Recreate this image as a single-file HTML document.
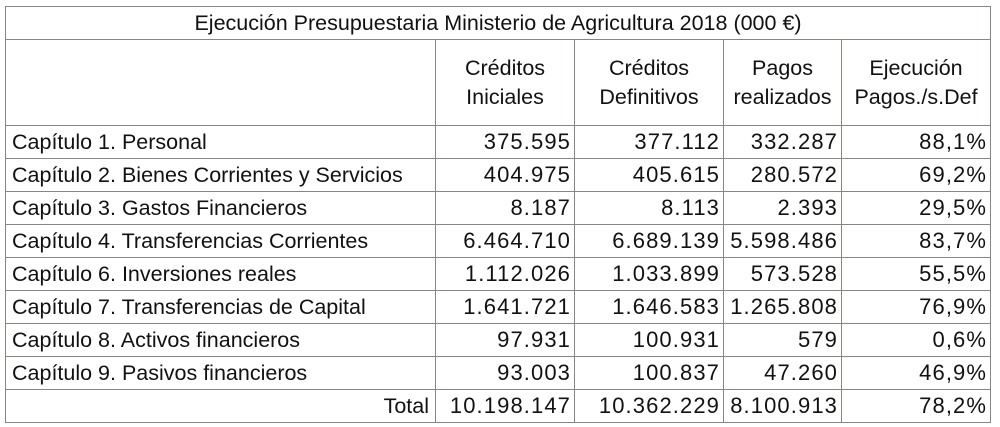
<!DOCTYPE html>
<html><head><meta charset="utf-8">
<style>
body{margin:0;background:#fff;width:1000px;height:427px;overflow:hidden;font-family:"Liberation Sans",sans-serif;color:#111}
table{position:absolute;left:5px;top:6px;border-collapse:collapse;table-layout:fixed;font-size:21.5px;width:985px}
td{border:1.5px solid #8a8580;padding:0 6px;white-space:nowrap;overflow:hidden;height:32px;line-height:24px}
td.n{text-align:right;font-size:22px;letter-spacing:1.1px;padding-right:3px}
td.l{text-align:right}
td.h{text-align:center;line-height:29px;height:85px;padding:0}
td.t{text-align:center;height:32px;font-size:21.5px}
</style></head><body>
<table>
<colgroup><col style="width:430px"><col style="width:139px"><col style="width:149px"><col style="width:118px"><col style="width:149px"></colgroup>
<tr><td class="t" colspan="5">Ejecución Presupuestaria Ministerio de Agricultura 2018 (000 €)</td></tr>
<tr><td class="h"></td><td class="h">Créditos<br>Iniciales</td><td class="h">Créditos<br>Definitivos</td><td class="h">Pagos<br>realizados</td><td class="h">Ejecución<br>Pagos./s.Def</td></tr>
<tr><td>Capítulo 1. Personal</td><td class="n">375.595</td><td class="n">377.112</td><td class="n">332.287</td><td class="n">88,1%</td></tr>
<tr><td>Capítulo 2. Bienes Corrientes y Servicios</td><td class="n">404.975</td><td class="n">405.615</td><td class="n">280.572</td><td class="n">69,2%</td></tr>
<tr><td>Capítulo 3. Gastos Financieros</td><td class="n">8.187</td><td class="n">8.113</td><td class="n">2.393</td><td class="n">29,5%</td></tr>
<tr><td>Capítulo 4. Transferencias Corrientes</td><td class="n">6.464.710</td><td class="n">6.689.139</td><td class="n">5.598.486</td><td class="n">83,7%</td></tr>
<tr><td>Capítulo 6. Inversiones reales</td><td class="n">1.112.026</td><td class="n">1.033.899</td><td class="n">573.528</td><td class="n">55,5%</td></tr>
<tr><td>Capítulo 7. Transferencias de Capital</td><td class="n">1.641.721</td><td class="n">1.646.583</td><td class="n">1.265.808</td><td class="n">76,9%</td></tr>
<tr><td>Capítulo 8. Activos financieros</td><td class="n">97.931</td><td class="n">100.931</td><td class="n">579</td><td class="n">0,6%</td></tr>
<tr><td>Capítulo 9. Pasivos financieros</td><td class="n">93.003</td><td class="n">100.837</td><td class="n">47.260</td><td class="n">46,9%</td></tr>
<tr><td class="l">Total</td><td class="n">10.198.147</td><td class="n">10.362.229</td><td class="n">8.100.913</td><td class="n">78,2%</td></tr>
</table>
</body></html>
